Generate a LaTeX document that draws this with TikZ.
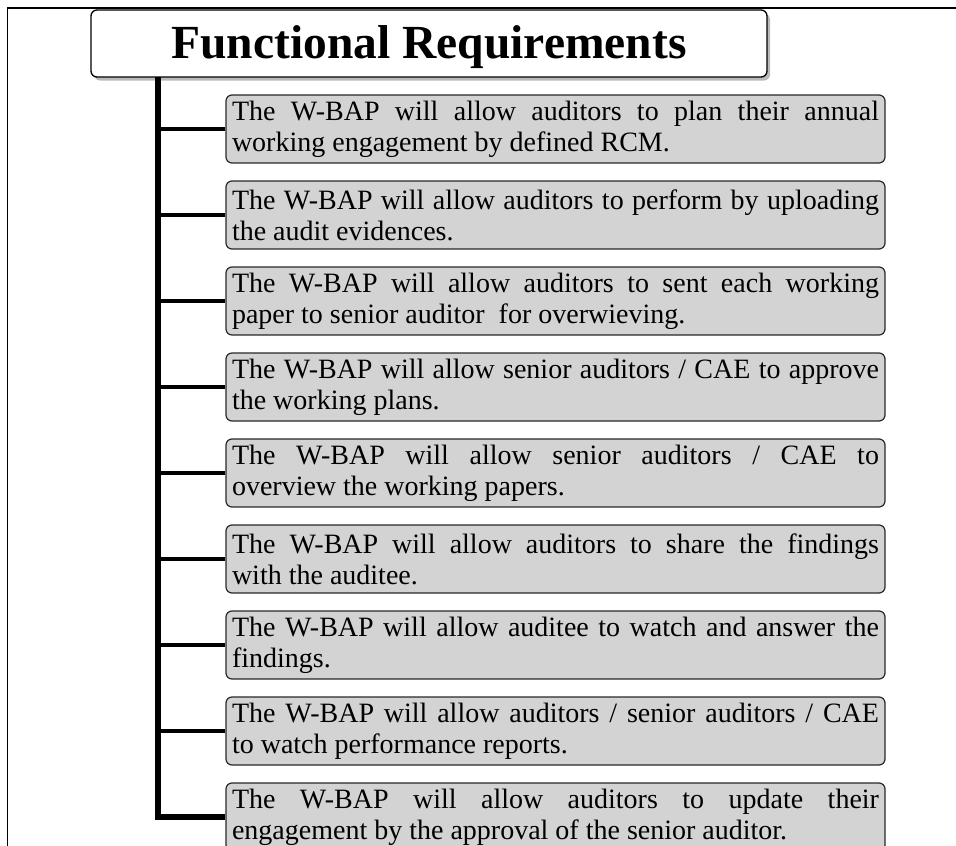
\documentclass[tikz,border=0pt]{standalone}
\usepackage{fontspec}
\setmainfont{Liberation Serif}
\usetikzlibrary{shadows}
\definecolor{boxfill}{RGB}{211,211,211}
\definecolor{boxline}{RGB}{40,40,40}
\begin{document}
\begin{tikzpicture}[x=1pt,y=-1pt,
  frame/.style={line width=1.3pt, draw=black},
  titlebox/.style={draw=black, line width=1.3pt, fill=white, rounded corners=6pt,
    minimum width=676pt, minimum height=67pt, inner sep=0pt, text depth=3pt,
    font=\fontsize{47.5}{52}\selectfont\bfseries,
    drop shadow={shadow xshift=3pt, shadow yshift=-3.5pt, fill=black!45, opacity=0.6}},
  req/.style={draw=boxline, line width=1.2pt, fill=boxfill, rounded corners=6pt,
    text width=647pt, inner xsep=6pt, inner ysep=0pt, minimum height=68pt,
    align=justify, font=\fontsize{28}{31}\selectfont},
  trunk/.style={line width=6pt, draw=black},
  branch/.style={line width=4.6pt, draw=black}
]
\useasboundingbox (0,0) rectangle (956,846);
\draw[frame] (7.5,846) -- (7.5,8) -- (956,8);

\node[titlebox] (title) at (429,43.5) {Functional Requirements};
\coordinate (t) at (158,77);

\node[req] (b1) at (555.5,129) {The W-BAP will allow auditors to plan their annual\linebreak working engagement by defined RCM.};
\node[req] (b2) at (555.5,215) {The W-BAP will allow auditors to perform by uploading\linebreak the audit evidences.};
\node[req] (b3) at (555.5,301) {The W-BAP will allow auditors to sent each working\linebreak paper to senior auditor~ for overwieving.};
\node[req] (b4) at (555.5,387) {The W-BAP will allow senior auditors / CAE to approve\linebreak the working plans.};
\node[req] (b5) at (555.5,473) {The W-BAP will allow senior auditors / CAE to\linebreak overview the working papers.};
\node[req] (b6) at (555.5,559) {The W-BAP will allow auditors to share the findings\linebreak with the auditee.};
\node[req] (b7) at (555.5,645) {The W-BAP will allow auditee to watch and answer the\linebreak findings.};
\node[req] (b8) at (555.5,731) {The W-BAP will allow auditors / senior auditors / CAE\linebreak to watch performance reports.};
\node[req] (b9) at (555.5,817) {The W-BAP will allow auditors to update their\linebreak engagement by the approval of the senior auditor.};

\draw[trunk] (t) |- (b9.west);
\foreach \i in {1,...,8}{
  \draw[branch] (t |- b\i.west) -- (b\i.west);
}
\end{tikzpicture}
\end{document}
